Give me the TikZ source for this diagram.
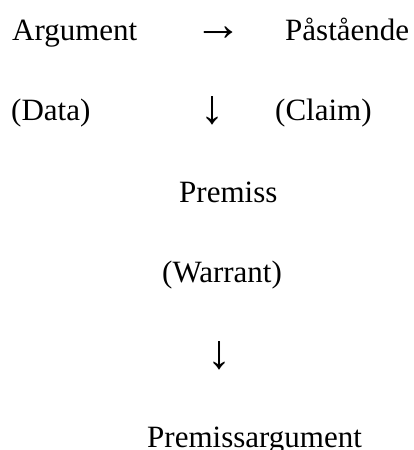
\documentclass[tikz,border=0pt]{standalone}
\usepackage{fontspec}
\setmainfont{Liberation Serif}
\usepackage{tikz}

\begin{document}
\begin{tikzpicture}[x=1pt, y=-1pt,
  nodes={inner sep=0pt, anchor=base west, font=\fontsize{31}{31}\selectfont},
  arrowsign/.style={anchor=base, font=\fontsize{48}{48}\selectfont}]
\useasboundingbox (0,0) rectangle (414,450);
% row 1
\node (arg) at (12,40) {Argument};
\node[arrowsign] (ra) at (218,40) {→};
\node (claimsv) at (285,40) {Påstående};
% row 2
\node (data) at (11,120) {(Data)};
\node[arrowsign] (da) at (212,123) {↓};
\node (claim) at (275,120) {(Claim)};
% middle column
\node (prem) at (179,202) {Premiss};
\node (warr) at (162,282) {(Warrant)};
\node[arrowsign] (db) at (219,368) {↓};
\node (premarg) at (147,447) {Premissargument};
\end{tikzpicture}
\end{document}
